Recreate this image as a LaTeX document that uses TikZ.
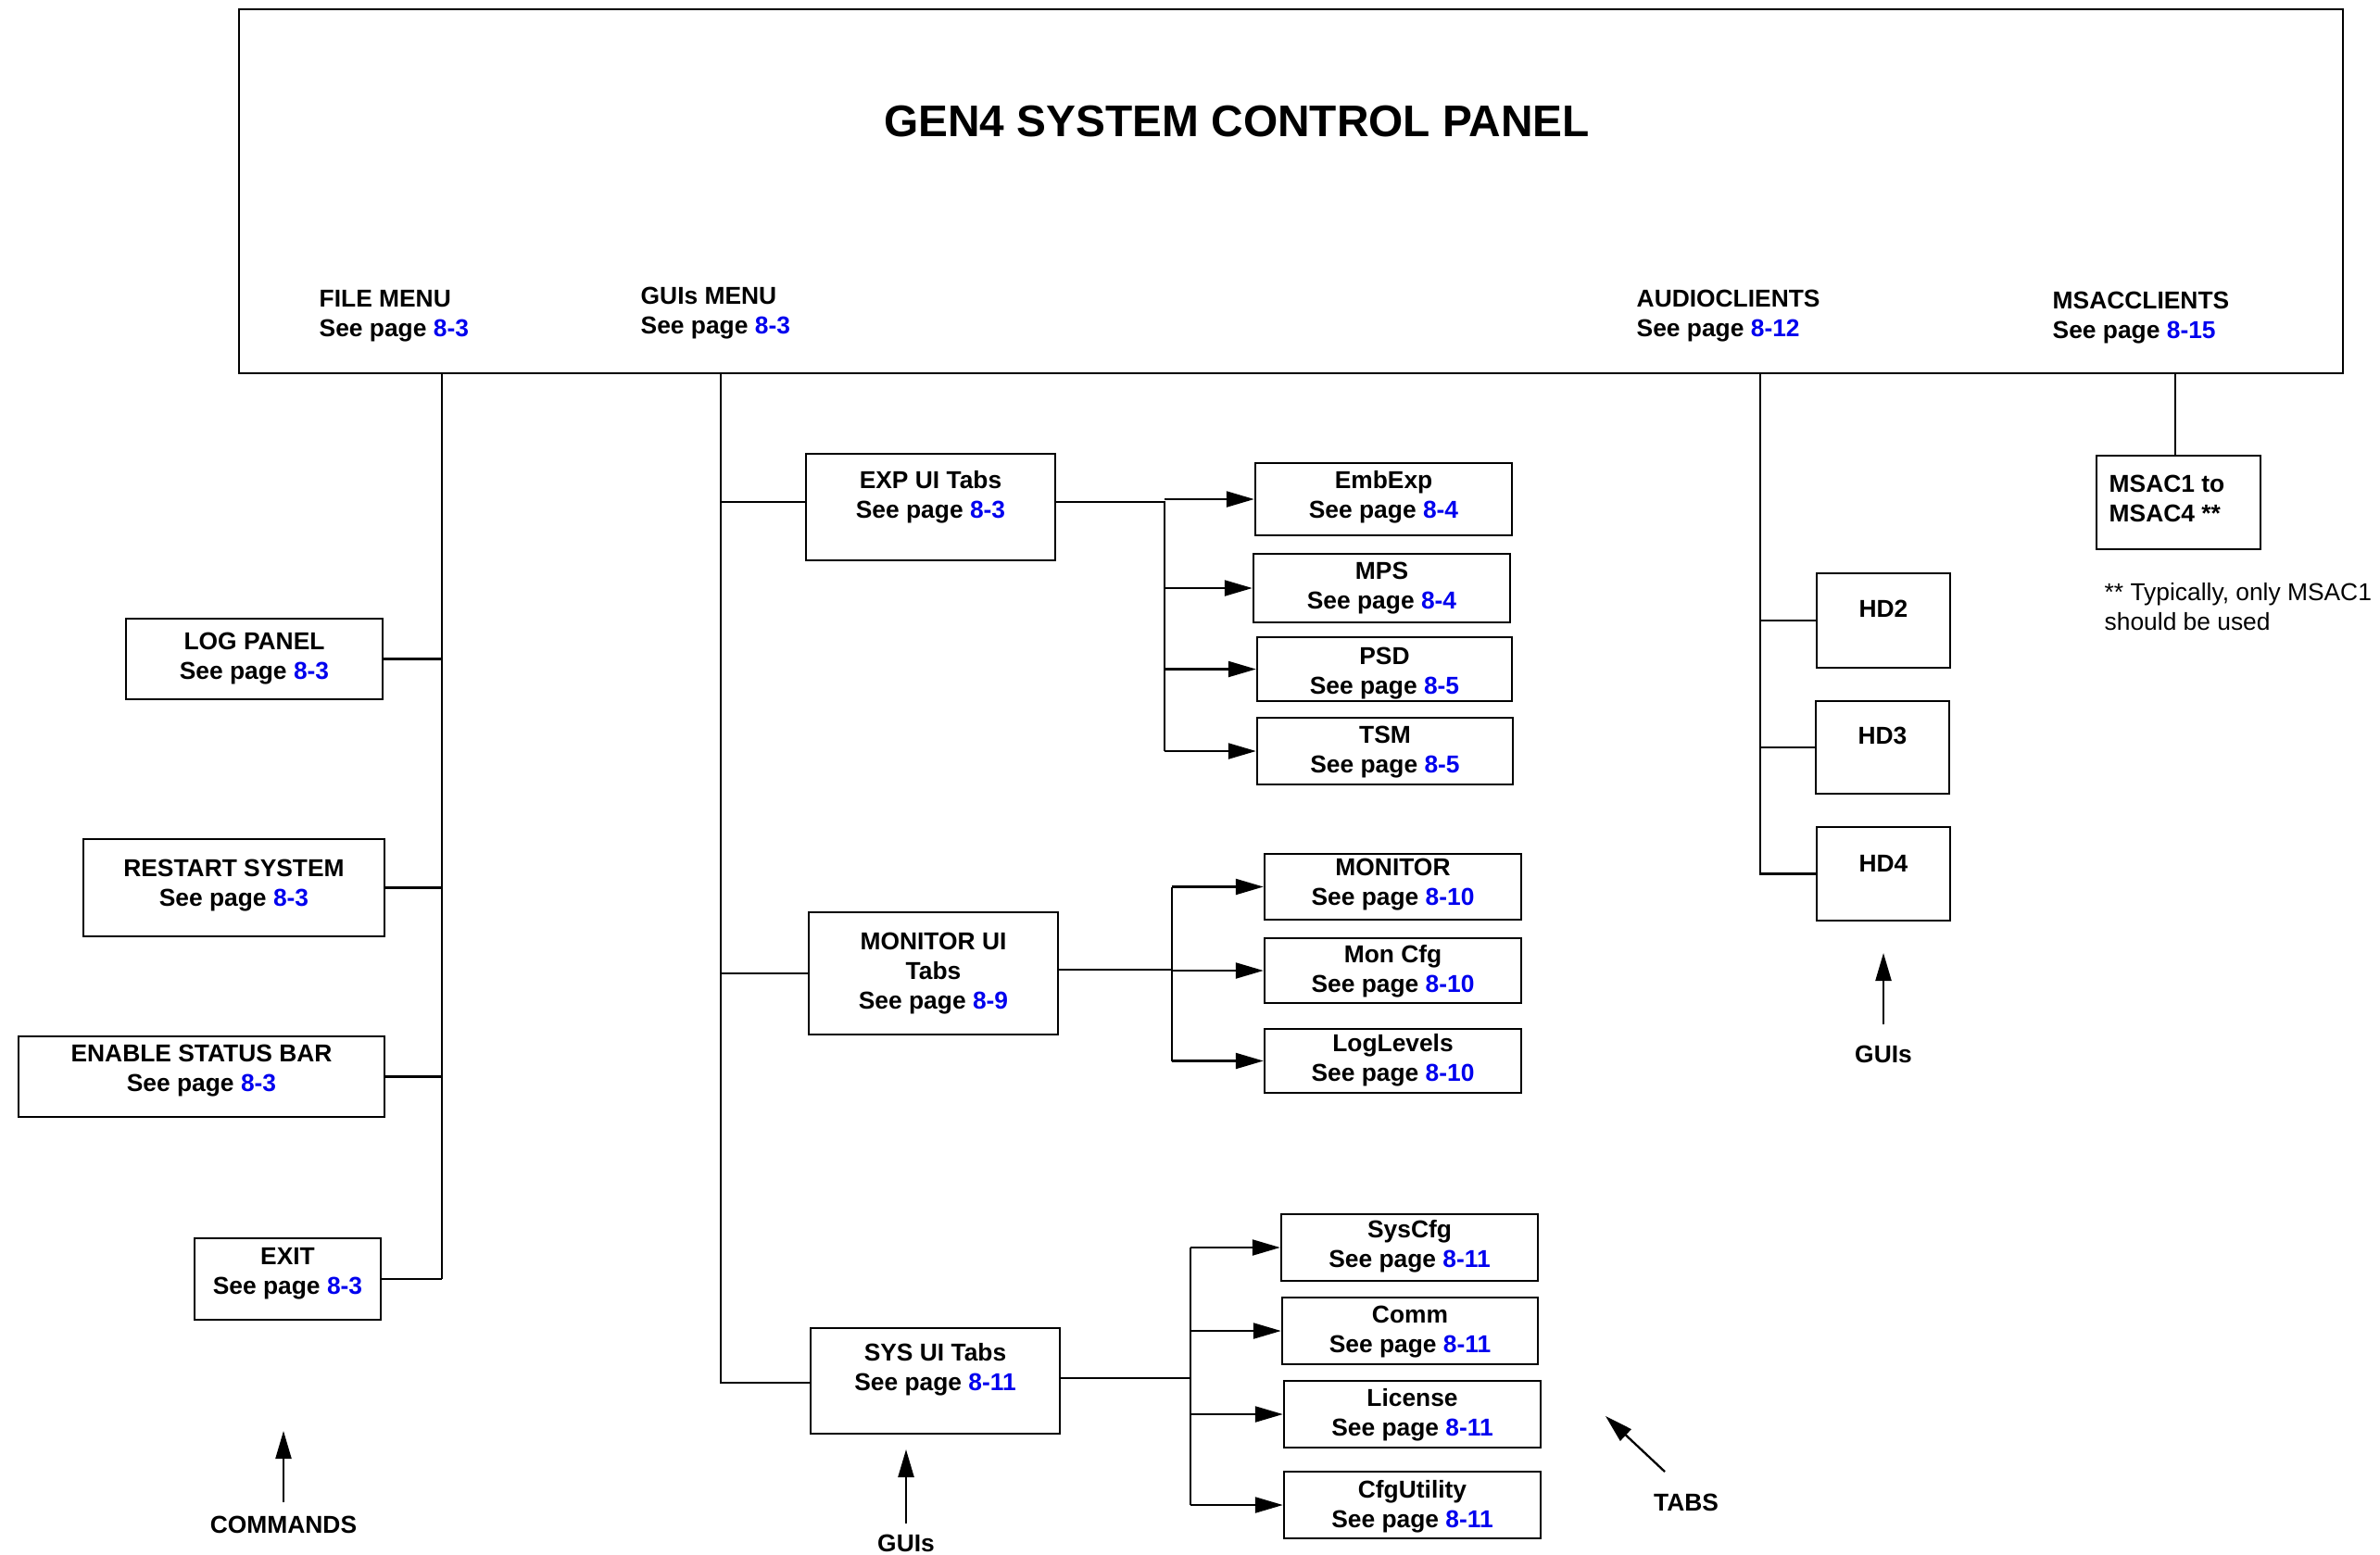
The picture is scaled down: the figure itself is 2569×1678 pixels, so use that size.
\documentclass[tikz,border=0pt]{standalone}
\usepackage{fontspec}
\setmainfont{Liberation Sans}
\usetikzlibrary{arrows.meta}
\definecolor{pblue}{RGB}{0,0,238}
\newcommand\pg[1]{\textcolor{pblue}{#1}}
\tikzset{
  box/.style={draw, line width=0.65pt, inner sep=0pt},
  txt/.style={inner sep=0pt, align=center, yshift=-0.03cm, font=\bfseries\fontsize{7.5}{9.1}\selectfont},
  ltxt/.style={inner sep=0pt, align=left, anchor=west, yshift=-0.03cm, font=\bfseries\fontsize{7.5}{9.1}\selectfont},
  conn/.style={line width=0.65pt},
  trunk/.style={line width=0.55pt},
  arr/.style={line width=0.65pt, -{Triangle[length=0.3cm,width=0.17cm]}},
}
\begin{document}
\begin{tikzpicture}[x=0.01cm,y=-0.01cm]
\useasboundingbox (0,0) rectangle (2569,1678);
% main panel
\node[box, minimum width=22.69cm, minimum height=3.93cm] (panel) at (1393.5,206.5) {};
\node[inner sep=0pt, font=\bfseries\fontsize{13.6}{16}\selectfont] (title) at (1335,131) {GEN4 SYSTEM CONTROL PANEL};
\node[ltxt] (filemenu) at (344,338) {FILE MENU\\See page \pg{8-3}};
\node[ltxt] (guismenu) at (691,335) {GUIs MENU\\See page \pg{8-3}};
\node[ltxt] (audio) at (1766,338) {AUDIOCLIENTS\\See page \pg{8-12}};
\node[ltxt] (msacc) at (2215,340) {MSACCLIENTS\\See page \pg{8-15}};

% FILE MENU commands
\node[box, minimum width=2.77cm, minimum height=0.87cm] (logp) at (274.5,711.5) {};
\node[txt] (logpT) at (274.5,708) {LOG PANEL\\See page \pg{8-3}};
\node[box, minimum width=3.25cm, minimum height=1.05cm] (restart) at (252.5,958.5) {};
\node[txt] (restartT) at (252.5,953) {RESTART SYSTEM\\See page \pg{8-3}};
\node[box, minimum width=3.95cm, minimum height=0.87cm] (enable) at (217.5,1162.5) {};
\node[txt] (enableT) at (217.5,1153) {ENABLE STATUS BAR\\See page \pg{8-3}};
\node[box, minimum width=2.01cm, minimum height=0.88cm] (exit) at (310.5,1381) {};
\node[txt] (exitT) at (310.5,1372) {EXIT\\See page \pg{8-3}};

\coordinate (ftop) at (477,403);
\draw[trunk] (ftop) -- (ftop |- exit.east);
\foreach \b in {logp,restart,enable,exit} \draw[conn] (\b.east) -- (\b.east -| ftop);

% GUIs MENU
\node[box, minimum width=2.69cm, minimum height=1.15cm] (exp) at (1004.5,547.5) {};
\node[txt] (expT) at (1004.5,534) {EXP UI Tabs\\See page \pg{8-3}};
\node[box, minimum width=2.69cm, minimum height=1.32cm] (mon) at (1007.5,1051) {};
\node[txt] (monT) at (1007.5,1048) {MONITOR UI\\Tabs\\See page \pg{8-9}};
\node[box, minimum width=2.69cm, minimum height=1.14cm] (sys) at (1009.5,1491) {};
\node[txt] (sysT) at (1009.5,1476) {SYS UI Tabs\\See page \pg{8-11}};

\coordinate (gtop) at (778,403);
\draw[trunk] (gtop) -- (778,1493) -- (sys.west |- 0,1493);
\draw[conn] (gtop |- 0,542) -- (exp.west |- 0,542);
\draw[conn] (gtop |- mon.west) -- (mon.west);

% EXP tabs
\node[box, minimum width=2.77cm, minimum height=0.78cm] (emb) at (1493.5,539) {};
\node[txt] (embT) at (1493.5,534) {EmbExp\\See page \pg{8-4}};
\node[box, minimum width=2.77cm, minimum height=0.74cm] (mps) at (1491.5,635) {};
\node[txt] (mpsT) at (1491.5,632) {MPS\\See page \pg{8-4}};
\node[box, minimum width=2.75cm, minimum height=0.69cm] (psd) at (1494.5,722.5) {};
\node[txt] (psdT) at (1494.5,724) {PSD\\See page \pg{8-5}};
\node[box, minimum width=2.76cm, minimum height=0.72cm] (tsm) at (1495,811) {};
\node[txt] (tsmT) at (1495,809) {TSM\\See page \pg{8-5}};
\coordinate (eb) at (1257,542);
\draw[conn] (exp.east |- eb) -- (eb) -- (eb |- tsm.west);
\foreach \b in {emb,mps,psd,tsm} \draw[arr] (eb |- \b.west) -- (\b.west);

% MONITOR tabs
\node[box, minimum width=2.77cm, minimum height=0.71cm] (monitor) at (1503.5,957.5) {};
\node[txt] (monitorT) at (1503.5,952) {MONITOR\\See page \pg{8-10}};
\node[box, minimum width=2.77cm, minimum height=0.70cm] (moncfg) at (1503.5,1048) {};
\node[txt] (moncfgT) at (1503.5,1046) {Mon Cfg\\See page \pg{8-10}};
\node[box, minimum width=2.77cm, minimum height=0.69cm] (loglev) at (1503.5,1145.5) {};
\node[txt] (loglevT) at (1503.5,1142) {LogLevels\\See page \pg{8-10}};
\coordinate (mb) at (1265,1047);
\draw[conn] (mon.east |- mb) -- (mb);
\draw[conn] (mb |- monitor.west) -- (mb |- loglev.west);
\foreach \b in {monitor,moncfg,loglev} \draw[arr] (mb |- \b.west) -- (\b.west);

% SYS tabs
\node[box, minimum width=2.77cm, minimum height=0.72cm] (syscfg) at (1521.5,1347) {};
\node[txt] (syscfgT) at (1521.5,1343) {SysCfg\\See page \pg{8-11}};
\node[box, minimum width=2.76cm, minimum height=0.72cm] (comm) at (1522,1437) {};
\node[txt] (commT) at (1522,1435) {Comm\\See page \pg{8-11}};
\node[box, minimum width=2.77cm, minimum height=0.72cm] (license) at (1524.5,1527) {};
\node[txt] (licenseT) at (1524.5,1525) {License\\See page \pg{8-11}};
\node[box, minimum width=2.77cm, minimum height=0.72cm] (cfgu) at (1524.5,1625) {};
\node[txt] (cfguT) at (1524.5,1624) {CfgUtility\\See page \pg{8-11}};
\coordinate (sb) at (1285,1488);
\draw[conn] (sys.east |- sb) -- (sb);
\draw[conn] (sb |- syscfg.west) -- (sb |- cfgu.west);
\foreach \b in {syscfg,comm,license,cfgu} \draw[arr] (sb |- \b.west) -- (\b.west);

% AUDIOCLIENTS
\node[box, minimum width=1.44cm, minimum height=1.02cm] (hd2) at (2033,670) {};
\node[txt] (hd2T) at (2033,654) {HD2};
\node[box, minimum width=1.44cm, minimum height=1.00cm] (hd3) at (2032,807) {};
\node[txt] (hd3T) at (2032,791) {HD3};
\node[box, minimum width=1.44cm, minimum height=1.01cm] (hd4) at (2033,943.5) {};
\node[txt] (hd4T) at (2033,929) {HD4};
\coordinate (atop) at (1900,403);
\draw[conn] (atop) -- (atop |- hd4.west) -- (hd4.west);
\draw[conn] (atop |- hd2.west) -- (hd2.west);
\draw[conn] (atop |- hd3.west) -- (hd3.west);

% MSACCLIENTS
\node[box, minimum width=1.77cm, minimum height=1.01cm] (msac) at (2351.5,542.5) {};
\node[ltxt] (msacT) at (2276,535) {MSAC1 to\\MSAC4 **};
\coordinate (mtop) at (2348,403);
\draw[conn] (mtop) -- (mtop |- msac.north);
\node[inner sep=0pt, align=left, anchor=west, yshift=-0.03cm, font=\fontsize{7.5}{9.1}\selectfont] (note) at (2271,652) {** Typically, only MSAC1\\should be used};

% pointer labels
\node[txt] (cmdlbl) at (306,1643) {COMMANDS};
\coordinate (cmdA) at (306,1622);
\coordinate (cmdB) at (306,1545);
\draw[arr] (cmdA) -- (cmdB);

\node[txt] (guilbl1) at (2033,1135) {GUIs};
\coordinate (g1A) at (2033,1106);
\coordinate (g1B) at (2033,1029);
\draw[arr] (g1A) -- (g1B);

\node[txt] (guilbl2) at (978,1663) {GUIs};
\coordinate (g2A) at (978,1645);
\coordinate (g2B) at (978,1565);
\draw[arr] (g2A) -- (g2B);

\node[txt] (tabslbl) at (1820,1619) {TABS};
\coordinate (tA) at (1797,1589);
\coordinate (tB) at (1733,1529);
\draw[arr] (tA) -- (tB);
\end{tikzpicture}
\end{document}
